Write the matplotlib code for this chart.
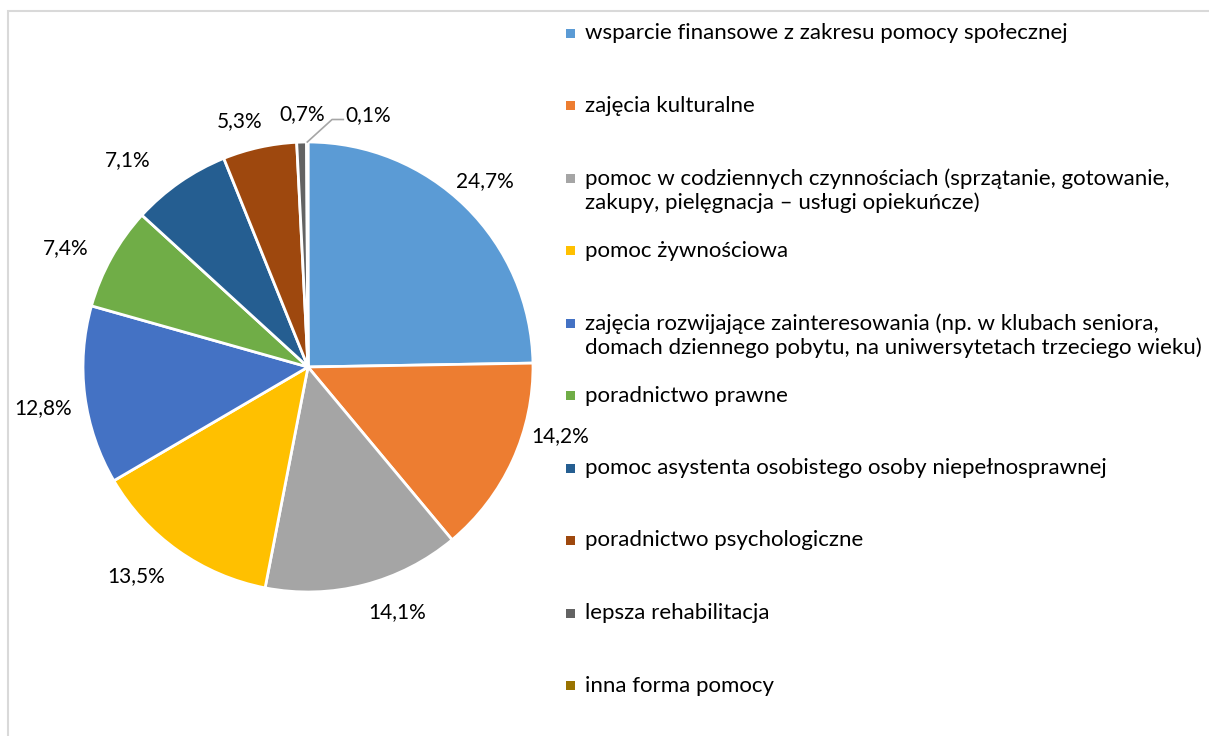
import matplotlib.pyplot as plt
import numpy as np
from matplotlib.patches import Rectangle

plt.rcParams['font.family'] = ['Lato', 'DejaVu Sans']

# Dane
categories = [
    "wsparcie finansowe z zakresu pomocy społecznej",
    "zajęcia kulturalne",
    "pomoc w codziennych czynnościach (sprzątanie, gotowanie,\nzakupy, pielęgnacja – usługi opiekuńcze)",
    "pomoc żywnościowa",
    "zajęcia rozwijające zainteresowania (np. w klubach seniora,\ndomach dziennego pobytu, na uniwersytetach trzeciego wieku)",
    "poradnictwo prawne",
    "pomoc asystenta osobistego osoby niepełnosprawnej",
    "poradnictwo psychologiczne",
    "lepsza rehabilitacja",
    "inna forma pomocy",
]
values = [24.7, 14.2, 14.1, 13.5, 12.8, 7.4, 7.1, 5.3, 0.7, 0.1]
labels = ["24,7%", "14,2%", "14,1%", "13,5%", "12,8%", "7,4%", "7,1%", "5,3%", "0,7%", "0,1%"]
colors = ["#5B9BD5", "#ED7D31", "#A5A5A5", "#FFC000", "#4472C4",
          "#70AD47", "#255E91", "#9E480E", "#636363", "#997300"]

# położenie etykiet (kąt w stopniach, odległość w promieniach)
label_ang = [46.3, -15.3, -70.1, -129.4, -171.2, 153.9, 131.2, 105.5, 91.4]
label_r = [1.14, 1.16, 1.16, 1.20, 1.19, 1.20, 1.22, 1.134, 1.125]

W, H = 1209, 736
fig = plt.figure(figsize=(W / 100, H / 100), dpi=100)

# pie: środek (308, 367) px, promień 225 px
R = 225
cx, cy = 308, H - 367
half = 1.5 * R
ax = fig.add_axes([(cx - half) / W, (cy - half) / H, 2 * half / W, 2 * half / H])
wedges, _ = ax.pie(values, colors=colors, startangle=90, counterclock=False,
                   radius=1.0, wedgeprops=dict(edgecolor="white", linewidth=2))
ax.set_xlim(-1.5, 1.5)
ax.set_ylim(-1.5, 1.5)
ax.set_aspect("equal")
ax.axis("off")

fs = 15
for lab, a, r in zip(labels[:-1], label_ang, label_r):
    t = np.deg2rad(a)
    ax.text(r * np.cos(t), r * np.sin(t), lab, ha="center", va="center",
            fontsize=fs, color="black", clip_on=False)

# etykieta 0,1% z linią odniesienia
w = wedges[-1]
tm = np.deg2rad((w.theta1 + w.theta2) / 2)
x0, y0 = np.cos(tm), np.sin(tm)
ax.plot([x0, x0 + 0.11, x0 + 0.16], [y0, y0 + 0.10, y0 + 0.10],
        color="#A6A6A6", lw=1.2, clip_on=False)
ax.text(x0 + 0.17, y0 + 0.12, labels[-1], ha="left", va="center",
        fontsize=fs, color="black", clip_on=False)

# legenda
y_top = 33
step = 72.5
for i, (cat, col) in enumerate(zip(categories, colors)):
    yp = y_top + i * step
    fig.patches.append(Rectangle(((570 - 4.5) / W, 1 - (yp + 4.5) / H), 9 / W, 9 / H,
                                 transform=fig.transFigure, facecolor=col,
                                 edgecolor="none"))
    fig.text(585 / W, 1 - (yp - 10) / H, cat, ha="left", va="top",
             fontsize=16, color="black", linespacing=1.2)

# ramka wykresu
fig.patches.append(Rectangle((8 / W, -0.1), 1.2, 1 - 11 / H + 0.1,
                             transform=fig.transFigure, fill=False,
                             edgecolor="#D9D9D9", linewidth=1.5))

fig.savefig("out.png", dpi=100)
